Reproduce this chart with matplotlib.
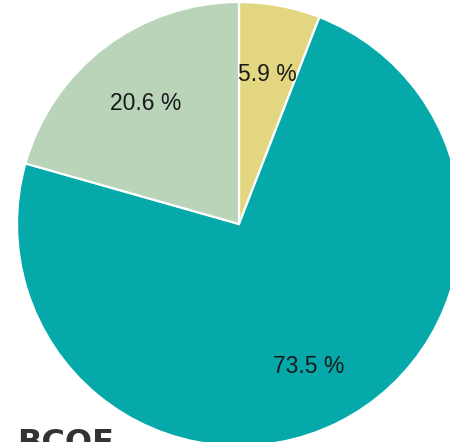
import matplotlib
matplotlib.use("Agg")
import matplotlib.pyplot as plt

# slice data, clockwise from 12 o'clock
labels = ["A", "B", "C"]
shares = [5.9, 73.5, 20.6]
colors = ["#e2d680", "#05a9aa", "#b9d4b9"]
title = "BCOE"

W, H = 450, 442
fig = plt.figure(figsize=(W / 100, H / 100), dpi=100)

# pie centre (239, 224) px, radius 222 px
cx, cy, r = 239, 224, 222
ax = fig.add_axes([(cx - r) / W, (H - cy - r) / H, 2 * r / W, 2 * r / H])

wedges, texts, autotexts = ax.pie(
    shares,
    colors=colors,
    startangle=90,
    counterclock=False,
    autopct=lambda p: f"{p:.1f} %",
    pctdistance=0.7,
    wedgeprops=dict(edgecolor="white", linewidth=1.6),
    textprops=dict(fontsize=16.5, color="#1a1a1a", family="Liberation Sans"),
)
# nudge labels down a touch
for t in autotexts:
    x, y = t.get_position()
    t.set_position((x, y - 0.015))
ax.set_xlim(-1, 1)
ax.set_ylim(-1, 1)
ax.set_axis_off()

fig.text(17 / W, (H - 452) / H, title, fontsize=23, fontweight="bold",
         color="#333333", va="baseline", ha="left")

fig.savefig("out.png", dpi=100)
